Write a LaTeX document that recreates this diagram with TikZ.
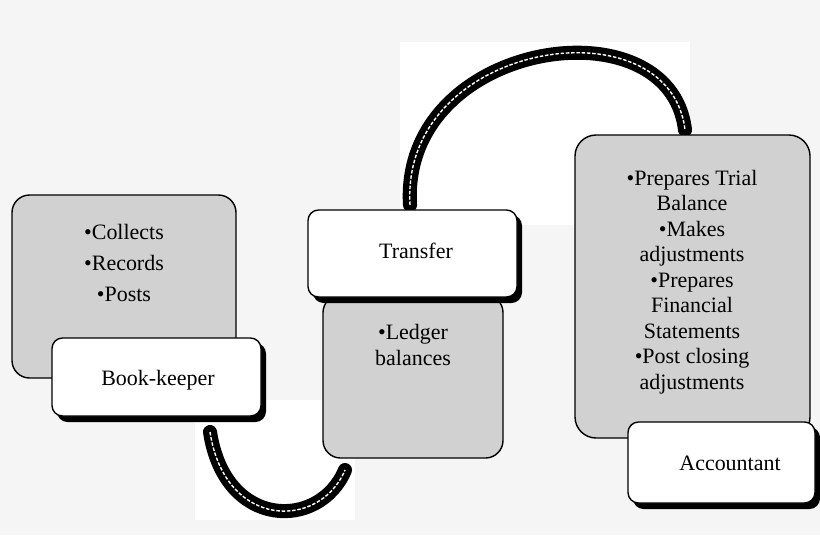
\documentclass[tikz,border=0pt]{standalone}
\usepackage{fontspec}
\setmainfont{Liberation Serif}
\begin{document}
\begin{tikzpicture}[
  x=0.02cm, y=-0.02cm,
  every node/.style={font=\fontsize{12.5}{14.5}\selectfont},
  info/.style={draw,thick,fill=black!18},
  shade/.style={fill=black,rounded corners=6pt},
  tag/.style={draw,thick,fill=white,rounded corners=6pt},
  band/.style={line width=8pt,black,line cap=round},
  seam/.style={line width=0.8pt,white,dash pattern=on 2pt off 1pt}
]
\fill[black!4] (0,0) rectangle (820,535);
\useasboundingbox (0,0) rectangle (820,535);
% white patches behind the arcs
\fill[white] (195,400) rectangle (355,520);
\fill[white] (400,42) rectangle (690,225);
% arcs
\draw[band] (210,432) .. controls (225,530) and (320,530) .. (345,470);
\draw[seam] (210,432) .. controls (225,530) and (320,530) .. (345,470);
\draw[band] (410,205) .. controls (400,40) and (670,0) .. (685,130);
\draw[seam] (410,205) .. controls (400,40) and (670,0) .. (685,130);
% boxes
\draw[info,rounded corners=10pt] (12,195) rectangle (236,378);
\node[align=center] (lefttxt) at (124,263) {\textbullet Collects\\[3pt]\textbullet Records\\[3pt]\textbullet Posts};
\draw[info,rounded corners=10pt] (323,295) rectangle (503,458);
\node[align=center] (ledger) at (413,345) {\textbullet Ledger\\balances};
\draw[info,rounded corners=12pt] (575,135) rectangle (810,438);
\node[align=center] (acctxt) at (692,282) {\textbullet Prepares Trial\\Balance\\\textbullet Makes\\adjustments\\\textbullet Prepares\\Financial\\Statements\\\textbullet Post closing\\adjustments};
% label boxes with heavy shadow edge
\fill[shade] (57,343) rectangle (266,422);
\draw[tag] (52,338) rectangle (261,416);
\node (keeper) at (158,380) {Book-keeper};
\fill[shade] (313,215) rectangle (522,303);
\draw[tag] (308,210) rectangle (517,297);
\node (transfer) at (416,251) {Transfer};
\fill[shade] (633,427) rectangle (820,509);
\draw[tag] (628,422) rectangle (815,503);
\node (accountant) at (730,463) {Accountant};
\end{tikzpicture}
\end{document}
